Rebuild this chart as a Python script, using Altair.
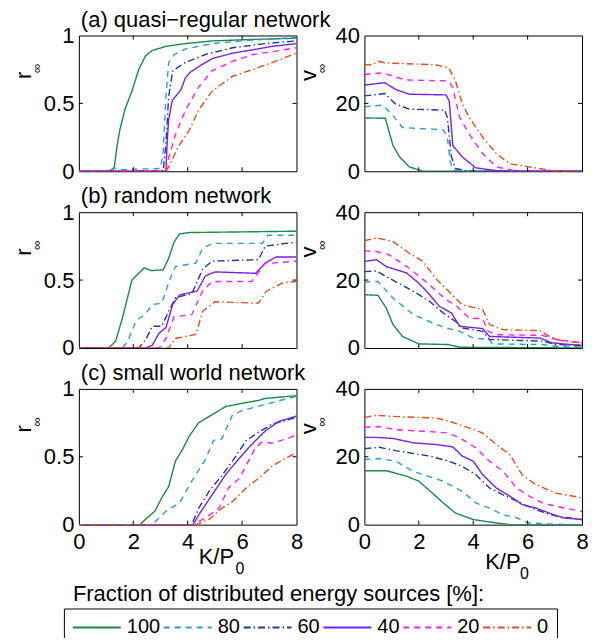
import altair as alt
import pandas as pd

FONT = "Liberation Sans"

FRACTIONS = ["100", "80", "60", "40", "20", "0"]
COLORS = ["#1a8a45", "#2b9bd8", "#1e3c8f", "#7a1fe6", "#ff1aff", "#e84a1e"]
DASHES = [[1, 0], [6, 5], [7, 3, 1.5, 3], [1, 0], [6, 5], [7, 3, 1.5, 3]]

X_TICKS = [0, 2, 4, 6, 8]
R_TICKS = [0, 0.5, 1]
V_TICKS = [0, 20, 40]

TITLES = ["(a) quasi\u2212regular network", "(b) random network", "(c) small world network"]
Y_NAMES = ["r", "v"]
SUBSCRIPT = "\u221e"
XLABEL = "K/P"
XLABEL_SUB = "0"
LEGEND_TEXT = "Fraction of distributed energy sources [%]:"

# ---- (a) quasi-regular network ----
A_R = {
    "100": ([0, 1.0, 1.2, 1.3, 1.4, 1.5, 1.7, 1.95, 2.2, 2.45, 2.7, 3.2, 3.9, 4.9, 6.25, 8],
            [0, 0, 0.01, 0.03, 0.18, 0.30, 0.46, 0.59, 0.75, 0.85, 0.89, 0.92, 0.94, 0.96, 0.97, 0.98]),
    "80": ([0, 1.2, 1.3, 1.45, 2.0, 3.0, 3.1, 3.2, 3.3, 3.5, 3.9, 4.9, 6.25, 8],
           [0, 0, 0.025, 0.01, 0.015, 0.02, 0.15, 0.55, 0.8, 0.86, 0.9, 0.94, 0.965, 0.985]),
    "60": ([0, 3.1, 3.2, 3.3, 3.45, 3.9, 4.65, 5.65, 6.85, 8],
           [0, 0.005, 0.2, 0.55, 0.74, 0.80, 0.86, 0.91, 0.94, 0.96]),
    "40": ([0, 3.2, 3.25, 3.3, 3.43, 3.55, 3.75, 3.92, 4.1, 4.4, 4.9, 5.65, 6.4, 7.1, 8],
           [0, 0, 0.23, 0.38, 0.52, 0.55, 0.6, 0.69, 0.73, 0.77, 0.83, 0.87, 0.895, 0.92, 0.94]),
    "20": ([0, 3.2, 3.25, 3.55, 3.92, 4.4, 4.9, 5.65, 6.4, 7.1, 8],
           [0, 0, 0.06, 0.27, 0.45, 0.62, 0.74, 0.81, 0.86, 0.88, 0.91]),
    "0": ([0, 3.2, 3.3, 3.65, 4.05, 4.4, 4.9, 5.65, 6.4, 7.1, 8],
          [0, 0, 0.03, 0.18, 0.30, 0.45, 0.59, 0.70, 0.75, 0.80, 0.87]),
}
A_V = {
    "100": ([0, 0.77, 1.05, 1.3, 1.65, 2.15, 8],
            [15.7, 15.6, 7.6, 4.2, 1.3, 0, 0]),
    "80": ([0, 0.67, 1.05, 1.4, 2.9, 3.05, 3.15, 3.25, 3.6, 8],
           [19.0, 19.5, 16.4, 12.9, 12.2, 10.0, 3.2, 0.3, 0, 0]),
    "60": ([0, 0.75, 1.15, 1.65, 2.95, 3.05, 3.2, 3.35, 3.85, 8],
           [22.2, 22.9, 19.8, 18.3, 18.0, 15.9, 4.2, 0.8, 0, 0]),
    "40": ([0, 0.75, 1.15, 1.65, 3.0, 3.12, 3.25, 3.6, 4.1, 4.85, 6.0, 8],
           [25.4, 26.1, 24.1, 22.7, 22.5, 20.7, 7.6, 4.2, 1.0, 0.2, 0, 0]),
    "20": ([0, 0.67, 1.5, 3.1, 3.25, 3.5, 3.85, 4.35, 4.85, 5.45, 6.1, 8],
           [28.5, 29.0, 26.9, 26.6, 24.6, 15.9, 11.0, 5.2, 1.3, 0.3, 0, 0]),
    "0": ([0, 0.3, 0.5, 0.8, 2.6, 3.1, 3.35, 3.6, 3.85, 4.35, 4.85, 5.35, 6.05, 6.8, 8],
          [31.4, 31.4, 32.4, 31.9, 31.4, 30.5, 26.6, 19.8, 15.9, 10.0, 5.2, 2.2, 1.3, 0.3, 0]),
}

# ---- (b) random network ----
B_R = {
    "100": ([0, 1.1, 1.35, 1.6, 1.95, 2.4, 2.65, 3.1, 3.3, 3.5, 3.7, 4.05, 8],
            [0, 0, 0.05, 0.22, 0.50, 0.59, 0.57, 0.575, 0.66, 0.78, 0.84, 0.85, 0.86]),
    "80": ([0, 1.6, 1.8, 2.1, 2.45, 2.7, 3.05, 3.35, 3.55, 4.3, 4.55, 4.9, 6.75, 6.95, 8],
           [0, 0, 0.05, 0.20, 0.25, 0.32, 0.33, 0.51, 0.60, 0.625, 0.735, 0.77, 0.77, 0.83, 0.83]),
    "60": ([0, 2.2, 2.45, 2.7, 3.05, 3.3, 3.55, 4.15, 4.55, 4.9, 6.6, 6.85, 8],
           [0, 0, 0.06, 0.16, 0.16, 0.27, 0.37, 0.40, 0.58, 0.64, 0.65, 0.75, 0.78]),
    "40": ([0, 2.45, 2.7, 2.95, 3.2, 3.45, 3.7, 4.35, 4.65, 5.0, 6.5, 6.85, 7.25, 8],
           [0, 0, 0.02, 0.11, 0.15, 0.32, 0.39, 0.42, 0.53, 0.56, 0.55, 0.625, 0.67, 0.67]),
    "20": ([0, 2.95, 3.2, 3.5, 4.15, 4.55, 4.9, 6.35, 6.85, 7.1, 8],
           [0, 0, 0.07, 0.23, 0.245, 0.42, 0.49, 0.49, 0.625, 0.625, 0.64]),
    "0": ([0, 3.3, 3.55, 4.3, 4.55, 5.0, 6.6, 6.9, 7.5, 8],
          [0, 0, 0.07, 0.10, 0.27, 0.34, 0.33, 0.42, 0.48, 0.49]),
}
B_V = {
    "100": ([0, 0.5, 0.8, 1.05, 1.4, 2.0, 3.1, 3.5, 8],
            [15.7, 15.5, 11.8, 6.9, 3.4, 1.2, 1.0, 0.2, 0]),
    "80": ([0, 0.5, 1.05, 1.8, 2.65, 3.0, 3.5, 4.0, 4.6, 4.7, 6.55, 7.05, 8],
           [19.4, 19.6, 14.7, 9.8, 6.9, 5.9, 4.9, 2.9, 2.5, 1.2, 1.0, 0.5, 0.5]),
    "60": ([0, 0.45, 0.9, 1.8, 2.4, 2.9, 3.35, 3.6, 4.35, 4.6, 6.55, 7.05, 8],
           [22.5, 22.7, 20.6, 16.7, 13.7, 10.3, 7.8, 5.9, 4.9, 2.5, 2.0, 1.0, 0.8]),
    "40": ([0, 0.45, 0.8, 1.55, 2.0, 2.4, 2.75, 3.2, 3.5, 4.35, 4.6, 6.45, 6.9, 8],
           [25.5, 26.0, 24.0, 22.1, 19.1, 15.7, 12.3, 10.3, 6.4, 5.7, 3.4, 2.9, 1.5, 0.7]),
    "20": ([0, 0.45, 0.9, 1.65, 2.4, 3.0, 3.35, 3.85, 4.35, 4.55, 4.85, 6.55, 7.05, 8],
           [28.6, 28.4, 27.5, 23.5, 18.6, 14.2, 12.7, 8.8, 8.6, 4.9, 3.9, 3.7, 2.5, 1.5]),
    "0": ([0, 0.45, 1.05, 1.65, 2.15, 2.65, 3.1, 3.6, 4.35, 4.6, 5.1, 6.45, 6.8, 7.3, 8],
          [31.6, 32.4, 31.4, 27.9, 25.5, 20.2, 16.7, 12.7, 11.3, 6.9, 5.4, 5.1, 3.4, 2.0, 1.5]),
}

# ---- (c) small world network ----
C_R = {
    "100": ([0, 2.25, 2.45, 2.8, 3.05, 3.3, 3.55, 3.8, 4.05, 4.4, 4.9, 5.4, 5.9, 6.6, 6.85, 8],
            [0, 0, 0.04, 0.10, 0.20, 0.28, 0.47, 0.55, 0.65, 0.75, 0.81, 0.87, 0.89, 0.915, 0.93, 0.95]),
    "80": ([0, 2.7, 3.2, 3.7, 4.15, 4.65, 4.95, 5.25, 5.65, 6.0, 6.75, 7.5, 8],
           [0, 0, 0.10, 0.16, 0.32, 0.48, 0.62, 0.63, 0.81, 0.84, 0.88, 0.92, 0.945]),
    "60": ([0, 4.15, 4.4, 4.8, 5.25, 5.65, 6.15, 6.6, 7.1, 8],
           [0, 0, 0.12, 0.25, 0.36, 0.47, 0.62, 0.68, 0.74, 0.79]),
    "40": ([0, 4.2, 4.4, 4.9, 5.4, 5.9, 6.35, 6.85, 7.35, 8],
           [0, 0, 0.07, 0.22, 0.37, 0.49, 0.59, 0.69, 0.76, 0.80]),
    "20": ([0, 4.2, 4.65, 5.15, 5.5, 5.9, 6.5, 6.75, 7.1, 7.6, 8],
           [0, 0, 0.05, 0.12, 0.27, 0.34, 0.57, 0.61, 0.60, 0.63, 0.66]),
    "0": ([0, 4.3, 4.8, 5.25, 5.65, 6.15, 6.6, 7.1, 7.6, 8],
          [0, 0, 0.04, 0.12, 0.17, 0.27, 0.34, 0.43, 0.49, 0.53]),
}
C_V = {
    "100": ([0, 0.8, 1.55, 2.0, 2.5, 2.9, 3.35, 4.0, 4.85, 5.35, 8],
            [15.9, 15.9, 14.3, 12.8, 9.3, 6.4, 3.4, 1.5, 0.5, 0, 0]),
    "80": ([0, 0.55, 1.15, 1.8, 2.9, 3.6, 4.1, 4.6, 5.1, 5.6, 6.05, 6.8, 8],
           [19.2, 19.5, 18.7, 15.7, 12.8, 9.8, 6.4, 4.9, 2.9, 2.0, 0.5, 0.2, 0]),
    "60": ([0, 0.55, 1.15, 2.4, 3.1, 3.6, 4.1, 4.6, 5.1, 5.6, 6.3, 7.05, 8],
           [22.4, 22.8, 21.8, 20.2, 18.7, 17.2, 14.7, 10.8, 8.8, 6.9, 4.4, 2.5, 1.5]),
    "40": ([0, 0.45, 1.05, 1.8, 2.65, 3.25, 3.6, 4.0, 4.35, 4.85, 5.35, 5.8, 6.3, 6.8, 7.3, 8],
           [25.7, 25.7, 25.4, 24.1, 23.6, 22.9, 20.2, 18.7, 14.7, 10.8, 8.4, 5.9, 4.9, 3.4, 2.0, 1.5]),
    "20": ([0, 0.55, 1.15, 2.65, 3.1, 3.6, 4.1, 4.6, 5.1, 5.6, 6.05, 6.55, 7.05, 8],
           [28.7, 28.9, 28.0, 27.3, 27.0, 25.1, 22.6, 18.7, 15.7, 10.8, 8.4, 6.4, 5.4, 3.9]),
    "0": ([0, 0.45, 1.05, 2.65, 3.1, 3.85, 4.35, 4.85, 5.35, 5.8, 6.3, 7.05, 8],
          [31.6, 32.2, 31.9, 31.4, 30.5, 28.5, 27.0, 23.6, 20.6, 14.7, 11.8, 9.3, 7.9]),
}

PANELS = [[A_R, A_V], [B_R, B_V], [C_R, C_V]]

W, H = 218, 136
BIG = 22
TICK = 4


def panel_df(d):
    rows = []
    for frac in FRACTIONS:
        xs, ys = d[frac]
        for i, (x, y) in enumerate(zip(xs, ys)):
            rows.append({"frac": frac, "x": x, "y": y, "i": i})
    return pd.DataFrame(rows)


legend = alt.Legend(
    title=None, orient="none", legendX=-15, legendY=574, direction="horizontal",
    symbolType="stroke", symbolSize=2304, symbolStrokeWidth=2, symbolOpacity=1,
    clipHeight=22,
    labelFontSize=20, labelFont=FONT, labelColor="black", labelOffset=5,
    columnPadding=2, strokeColor="black", fillColor="white", padding=8,
)


def text_layer(t, x, y, size=BIG, angle=0, align="left", baseline="alphabetic"):
    return alt.Chart(pd.DataFrame({"t": [t]})).mark_text(
        font=FONT, fontSize=size, angle=angle, align=align, baseline=baseline, color="black"
    ).encode(x=alt.value(x), y=alt.value(y), text="t:N")


def make_panel(row, col):
    d = panel_df(PANELS[row][col])
    bottom = row == 2
    ydom = [0, 1] if col == 0 else [0, 40]
    yticks = R_TICKS if col == 0 else V_TICKS
    yfmt = ".1~f" if col == 0 else "d"
    xscale = alt.Scale(domain=[0, 8], nice=False, zero=False)
    yscale = alt.Scale(domain=ydom, nice=False)
    common = dict(domain=False, grid=False, ticks=False, title=None, minExtent=0,
                  labelFlush=False, labelOverlap=False, labelFontSize=BIG,
                  labelFont=FONT, labelColor="black")
    xaxis = alt.Axis(orient="bottom", values=X_TICKS, labels=bottom, labelPadding=7,
                     format="d", **common)
    yaxis = alt.Axis(orient="left", values=yticks, labelPadding=5, format=yfmt, **common)
    X = alt.X("x:Q", scale=xscale, axis=xaxis)
    Y = alt.Y("y:Q", scale=yscale, axis=yaxis)
    lines = alt.Chart(d).mark_line(strokeWidth=1.4, clip=True).encode(
        x=X, y=Y,
        color=alt.Color("frac:N", scale=alt.Scale(domain=FRACTIONS, range=COLORS), legend=legend),
        strokeDash=alt.StrokeDash("frac:N", scale=alt.Scale(domain=FRACTIONS, range=DASHES), legend=legend),
        order="i:Q",
    )
    xt = pd.DataFrame({"x": X_TICKS[1:-1]})
    yt = pd.DataFrame({"y": yticks[1:-1]})
    rule = dict(color="black", strokeWidth=1)
    ticks = [
        alt.Chart(xt).mark_rule(**rule).encode(x=X, y=alt.value(0), y2=alt.value(TICK)),
        alt.Chart(xt).mark_rule(**rule).encode(x=X, y=alt.value(H - TICK), y2=alt.value(H)),
        alt.Chart(yt).mark_rule(**rule).encode(y=Y, x=alt.value(0), x2=alt.value(TICK)),
        alt.Chart(yt).mark_rule(**rule).encode(y=Y, x=alt.value(W - TICK), x2=alt.value(W)),
    ]
    layers = [lines] + ticks + [
        text_layer(Y_NAMES[col], -55, 40, BIG, 270, "center", "middle"),
        text_layer(SUBSCRIPT, -42, 33, 13, 270, "center", "middle"),
    ]
    if col == 0:
        layers.append(text_layer(TITLES[row], 2, -9, BIG))
    if bottom:
        if col == 0:
            layers += [text_layer(XLABEL, 120, 175, BIG), text_layer(XLABEL_SUB, 157, 185, 16),
                       text_layer(LEGEND_TEXT, -6, 212, BIG)]
        else:
            layers += [text_layer(XLABEL, 121, 180, BIG), text_layer(XLABEL_SUB, 156, 190, 16)]
    return alt.layer(*layers).properties(width=W, height=H)


panels = [make_panel(r, c) for r in range(3) for c in range(2)]

chart = alt.concat(*panels, columns=2, spacing={"row": 41, "column": 68}, bounds="flush").resolve_scale(
    color="shared", strokeDash="shared"
).properties(
    padding={"left": 4, "top": -1, "right": 0, "bottom": -10}, background="white"
).configure_view(stroke="black", strokeWidth=1)

chart.save("out.html", embed_options={"renderer": "svg", "actions": False})
